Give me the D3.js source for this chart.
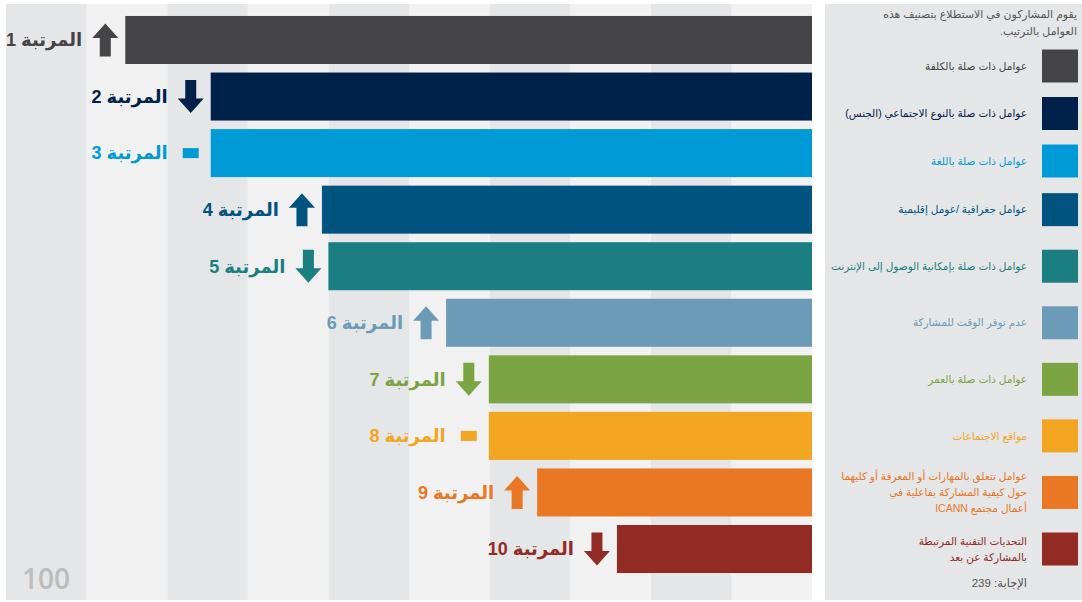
<!DOCTYPE html>
<html>
<head>
<meta charset="utf-8">
<script src="https://cdn.jsdelivr.net/npm/d3@7"></script>
<style>
  html, body { margin: 0; padding: 0; background: #ffffff; }
  svg { display: block; }
</style>
</head>
<body>
<svg id="chart" width="1082" height="602"></svg>
<script>
// Survey ranking of participation barriers (score on a 0–100 scale)
const ranks = [1, 2, 3, 4, 5, 6, 7, 8, 9, 10];
const scores = [85.2, 74.6, 74.6, 60.8, 60.0, 45.4, 40.1, 40.1, 34.1, 24.2];
const trends = ["up", "down", "flat", "up", "down", "up", "down", "flat", "up", "down"];
const colors = ["#444446", "#00224a", "#009bd6", "#01547f", "#1b7f81",
                "#6c9bb7", "#7ba443", "#f2a520", "#e97724", "#922b24"];
const rankLabels = ranks.map(r => "المرتبة " + r);
const legendLabels = [
  ["عوامل ذات صلة بالكلفة"],
  ["عوامل ذات صلة بالنوع الاجتماعي (الجنس)"],
  ["عوامل ذات صلة باللغة"],
  ["عوامل جغرافية /عومل إقليمية"],
  ["عوامل ذات صلة بإمكانية الوصول إلى الإنترنت"],
  ["عدم توفر الوقت للمشاركة"],
  ["عوامل ذات صلة بالعمر"],
  ["مواقع الاجتماعات"],
  ["عوامل تتعلق بالمهارات أو المعرفة أو كليهما", "حول كيفية المشاركة بفاعلية في", "أعمال مجتمع ICANN"],
  ["التحديات التقنية المرتبطة", "بالمشاركة عن بعد"]
];
const legendTitle = ["يقوم المشاركون في الاستطلاع بتصنيف هذه", "العوامل بالترتيب."];
const responsesLabel = "الإجابة: 239";
const tickLabels = ["100"];

const FONT = "'Liberation Sans', Arial, 'DejaVu Sans', sans-serif";
const svg = d3.select("#chart");

// Plot area
const plot = { left: 6, right: 812, top: 4, bottom: 600 };
const x = d3.scaleLinear().domain([0, 100]).range([plot.right, plot.left]);
const y = d3.scaleBand().domain(ranks)
  .range([11.7, 577.3]).paddingInner(0.151).paddingOuter(0.0755);

// Alternating background stripes, one per 10 points
const stripes = d3.range(0, 100, 10);
svg.append("g").selectAll("rect").data(stripes).join("rect")
  .attr("x", d => x(d + 10))
  .attr("y", plot.top)
  .attr("width", d => x(d) - x(d + 10))
  .attr("height", plot.bottom - plot.top)
  .attr("fill", (d, i) => i % 2 ? "#e5e6e8" : "#f1f1f1");

// Scale label
svg.append("g").selectAll("text").data(tickLabels).join("text")
  .attr("x", d => x(+d) + 16)
  .attr("y", 589)
  .attr("font-family", "'Open Sans', " + FONT)
  .attr("font-size", 28)
  .attr("font-weight", 600)
  .attr("fill", "#bcbcbc")
  .text(d => d);

// Bars grow leftwards from zero on the right
svg.append("g").selectAll("rect").data(ranks).join("rect")
  .attr("x", (d, i) => x(scores[i]))
  .attr("y", d => y(d))
  .attr("width", (d, i) => x(0) - x(scores[i]))
  .attr("height", y.bandwidth())
  .attr("fill", (d, i) => colors[i]);

// Trend markers
const arrowUp = "M0,-16.5 L13,-2 L5.5,-2 L5.5,16.5 L-5.5,16.5 L-5.5,-2 L-13,-2 Z";
const markers = svg.append("g").selectAll("g").data(ranks).join("g")
  .attr("transform", (d, i) => `translate(${x(scores[i]) - 20},${y(d) + y.bandwidth() / 2})`);
markers.each(function (d, i) {
  const g = d3.select(this);
  if (trends[i] === "flat") {
    g.append("rect").attr("x", -8).attr("y", -5).attr("width", 16).attr("height", 10)
      .attr("fill", colors[i]);
  } else {
    g.append("path").attr("d", arrowUp)
      .attr("transform", trends[i] === "down" ? "rotate(180)" : null)
      .attr("fill", colors[i]);
  }
});

// Rank labels
svg.append("g").selectAll("text").data(ranks).join("text")
  .attr("x", (d, i) => x(scores[i]) - 43)
  .attr("y", d => y(d) + y.bandwidth() / 2)
  .attr("dy", "0.35em")
  .attr("direction", "rtl")
  .attr("text-anchor", "start")
  .attr("font-family", FONT)
  .attr("font-weight", "bold")
  .attr("font-size", 18)
  .attr("fill", (d, i) => colors[i])
  .text((d, i) => rankLabels[i]);

// Legend panel
const legend = svg.append("g");
legend.append("rect")
  .attr("x", 825).attr("y", 4).attr("width", 257).attr("height", 596)
  .attr("fill", "#e5e6e8");

// Title, right-aligned; the first line is squeezed to fit the panel width
const titleMaxWidth = 194;
legend.append("g").selectAll("g").data(legendTitle).join("g")
  .attr("transform", (d, i) => `translate(1077,${18 + i * 17})`)
  .each(function (d, i) {
    const g = d3.select(this);
    const t = g.append("text")
      .attr("x", 0).attr("y", 0)
      .attr("direction", "rtl")
      .attr("text-anchor", "start")
      .attr("font-family", FONT)
      .attr("font-size", 11)
      .attr("fill", "#555555")
      .text(d);
    const w = t.node().getComputedTextLength();
    if (w > titleMaxWidth) {
      g.attr("transform", `translate(1077,${18 + i * 17}) scale(${titleMaxWidth / w},1)`);
    }
  });

const legendY = (d, i) => Math.max(y(d) + y.bandwidth() / 2, 66 + i * 47.5);
const items = legend.append("g").selectAll("g").data(ranks).join("g")
  .attr("transform", (d, i) => `translate(0,${legendY(d, i)})`);
items.append("rect")
  .attr("x", 1042).attr("y", -16.5).attr("width", 36).attr("height", 33)
  .attr("fill", (d, i) => colors[i]);
items.each(function (d, i) {
  const lines = legendLabels[i];
  const lh = 16;
  d3.select(this).selectAll("text").data(lines).join("text")
    .attr("x", 1027)
    .attr("y", (t, j) => (j - (lines.length - 1) / 2) * lh)
    .attr("dy", "0.35em")
    .attr("direction", "rtl")
    .attr("text-anchor", "start")
    .attr("font-family", FONT)
    .attr("font-size", 10.5)
    .attr("fill", colors[i])
    .text(t => t);
});

legend.append("text")
  .attr("x", 1027).attr("y", 583).attr("dy", "0.35em")
  .attr("direction", "rtl")
  .attr("text-anchor", "start")
  .attr("font-family", FONT)
  .attr("font-size", 11.5)
  .attr("fill", "#555555")
  .text(responsesLabel);
</script>
</body>
</html>
